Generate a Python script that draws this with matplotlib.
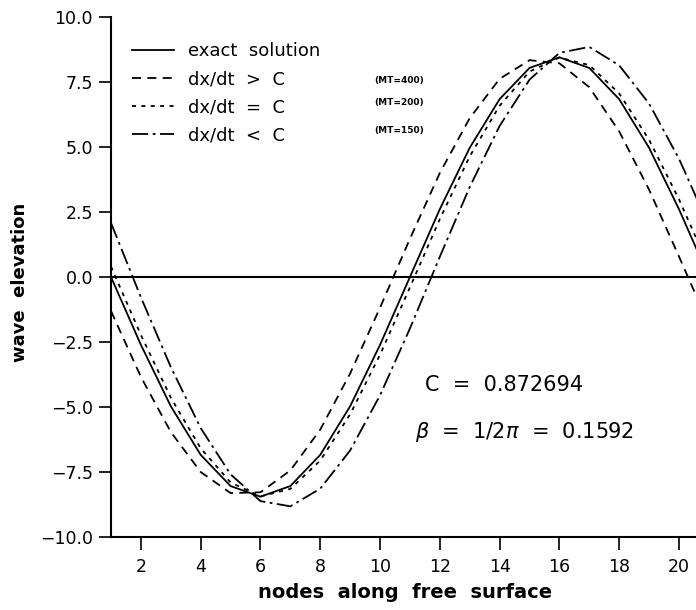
import matplotlib
matplotlib.use('Agg')

import matplotlib.pyplot as plt
import numpy as np

# ---------------------------
# DATA
# ---------------------------
nodes = list(range(1, 22))

exact = [0.0, -2.61, -4.97, -6.84, -8.04, -8.45, -8.04, -6.84, -4.97, -2.61, 0.0,
         2.61, 4.97, 6.84, 8.04, 8.45, 8.04, 6.84, 4.97, 2.61, 0.0]

dt_gt_c = [-1.31, -3.84, -5.96, -7.50, -8.31, -8.28, -7.44, -5.87, -3.71, -1.18, 1.47,
           4.00, 6.11, 7.62, 8.34, 8.22, 7.30, 5.60, 3.36, 0.79, -1.83]

dt_eq_c = [0.40, -2.23, -4.64, -6.59, -7.90, -8.44, -8.15, -7.06, -5.28, -2.99, -0.40,
           2.23, 4.64, 6.59, 7.90, 8.44, 8.15, 7.06, 5.28, 2.99, 0.40]

dt_lt_c = [2.08, -0.78, -3.46, -5.81, -7.59, -8.62, -8.82, -8.14, -6.67, -4.55, -1.98,
           0.78, 3.46, 5.81, 7.59, 8.62, 8.85, 8.14, 6.67, 4.55, 1.98]

labels = ["exact  solution", "dx/dt  >  C", "dx/dt  =  C", "dx/dt  <  C"]
mt_labels = ["(MT=400)", "(MT=200)", "(MT=150)"]

xticks = [2, 4, 6, 8, 10, 12, 14, 16, 18, 20]
yticks = [-10.0, -7.5, -5.0, -2.5, 0.0, 2.5, 5.0, 7.5, 10.0]

# ---------------------------
# FIGURE
# ---------------------------
plt.rcParams['font.family'] = ['DejaVu Sans']
W, H = 696, 610
fig = plt.figure(figsize=(W / 100, H / 100), dpi=100)
ax = fig.add_axes([111 / W, 1 - 537 / H, 585 / W, 520 / H])

lw = 1.3
ax.plot(nodes, exact, color='black', lw=lw, label=labels[0])
ax.plot(nodes, dt_gt_c, color='black', lw=lw, dashes=(5, 3.5), label=labels[1])
ax.plot(nodes, dt_eq_c, color='black', lw=lw, dashes=(2.2, 3), label=labels[2])
ax.plot(nodes, dt_lt_c, color='black', lw=lw, dashes=(9, 2.5, 1.5, 2.5), label=labels[3])

ax.axhline(0, color='black', lw=1.5)

ax.set_xlim(1, 20.57)
ax.set_ylim(-10, 10)

ax.spines['top'].set_visible(False)
ax.spines['right'].set_visible(False)
ax.spines['left'].set_linewidth(1.5)
ax.spines['bottom'].set_linewidth(1.5)

ax.set_xticks(xticks)
ax.set_yticks(yticks)
ax.set_yticklabels([f"{v:.1f}".replace('-', '\u2212') for v in yticks])
ax.tick_params(axis='both', direction='out', length=9, width=1.2, labelsize=12.5)
ax.tick_params(axis='x', pad=6)
ax.tick_params(axis='y', pad=4)

fig.text(20 / W, 1 - 282 / H, "wave  elevation", rotation=90, ha='center', va='center',
         fontsize=13, fontweight='bold')
fig.text(405 / W, 1 - 592 / H, "nodes  along  free  surface", ha='center', va='center',
         fontsize=14, fontweight='bold')

# ---------------------------
# LEGEND + NOTES
# ---------------------------
ax.legend(loc='upper left', bbox_to_anchor=(0.036, 0.952), frameon=False, fontsize=13,
          handlelength=2.3, handletextpad=0.8, labelspacing=0.56, borderpad=0,
          borderaxespad=0)

for lab, yy in zip(mt_labels, [80, 102, 130]):
    fig.text(399 / W, 1 - yy / H, lab, ha='center', va='center', fontsize=6.5,
             fontweight='bold')

fig.text(425 / W, 1 - 385 / H, "C  =  0.872694", ha='left', va='center', fontsize=15)
fig.text(415 / W, 1 - 432 / H, r"$\beta$  =  1/2$\pi$  =  0.1592", ha='left',
         va='center', fontsize=15)

fig.savefig("out.png", dpi=100)
